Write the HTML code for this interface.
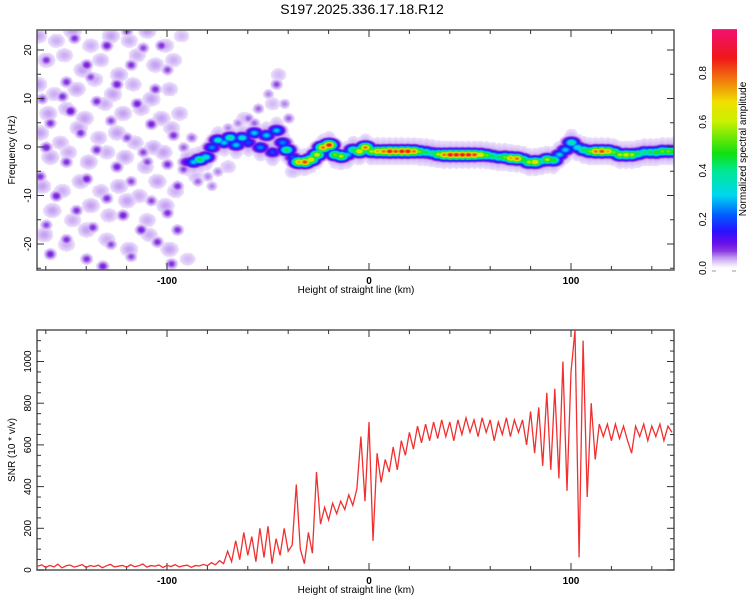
<!DOCTYPE html>
<html><head><meta charset="utf-8">
<style>
html,body{margin:0;padding:0;background:#fff;}
#wrap{position:relative;width:750px;height:600px;font-family:"Liberation Sans",sans-serif;}
canvas{position:absolute;left:37px;top:30px;}
svg{position:absolute;left:0;top:0;}
text{font-family:"Liberation Sans",sans-serif;fill:#000;}
</style></head>
<body>
<div id="wrap">
<canvas id="heat" width="637" height="240"></canvas>
<svg id="svg" width="750" height="600">
<defs><linearGradient id="cbgrad" x1="0" y1="1" x2="0" y2="0"></linearGradient>
<clipPath id="clipB"><rect x="37" y="330" width="637" height="240"/></clipPath></defs>
<text x="362" y="14" font-size="14" text-anchor="middle">S197.2025.336.17.18.R12</text>
<g id="axTop"></g>
<g id="axBot"></g>
<g id="cbar"></g>
<text x="356" y="293" font-size="10" text-anchor="middle">Height of straight line (km)</text>
<text x="356" y="593" font-size="10" text-anchor="middle">Height of straight line (km)</text>
<text transform="translate(15,150) rotate(-90)" font-size="10" text-anchor="middle">Frequency (Hz)</text>
<text transform="translate(15,450) rotate(-90)" font-size="10" text-anchor="middle">SNR (10 * v/v)</text>
<text transform="translate(746,149) rotate(-90)" font-size="10" text-anchor="middle">Normalized spectral amplitude</text>
</svg>
</div>
<script>
// ---- data ----
const snrStartKm = -164;
const snrStepKm = 2;
const snrValues = [18,25,12,22,15,28,10,20,24,14,19,26,12,21,17,23,11,20,27,15,18,22,13,25,16,20,29,14,21,18,24,12,22,17,26,15,20,23,13,21,19,27,
20,35,25,45,30,90,40,140,50,180,70,160,40,200,60,210,30,150,70,200,90,120,410,100,30,180,80,470,220,300,240,320,270,330,290,360,310,390,640,330,710,140,560,420,530,470,590,480,620,550,660,580,690,610,700,620,710,630,720,640,710,620,720,650,730,660,720,640,730,660,720,620,710,650,730,640,720,660,720,600,760,560,780,500,850,480,870,440,1000,380,950,1150,60,1100,350,800,530,700,640,700,620,700,630,690,620,560,690,640,700,620,690,640,700,620,690,660];
const ridgeKm   = [-90,-87,-84,-81,-78,-75,-72,-69,-66,-63,-60,-57,-54,-51,-48,-46,-43,-41,-38,-35,-32,-29,-26,-23,-20,-17,-14,-11,-8,-5,-2,1,4,7,10,13,16,19,22,25,28,31,34,37,40,43,46,49,52,55,58,61,64,67,70,73,76,79,82,85,88,91,94,97,100,103,106,109,112,115,118,121,124,127,130,133,136,139,142,145,148,150];
const ridgeHz   = [-3,-3,-2.5,-2,0,1.5,1,2,0.5,2,1,3,0,2.5,-1,3.5,1,-0.5,-2,-3,-3,-2.5,-1.5,0,0.5,-1.5,-1.8,-1.5,-0.5,-0.8,0,-0.8,-0.8,-0.8,-0.8,-0.8,-0.8,-0.8,-0.8,-0.9,-1,-1.2,-1.4,-1.5,-1.5,-1.5,-1.5,-1.5,-1.5,-1.5,-1.6,-1.8,-2,-2,-2.2,-2.3,-2.5,-3,-3,-2.8,-2.5,-2.6,-1.5,-0.5,1,0,-0.5,-0.8,-0.8,-0.8,-0.8,-1,-1.5,-1.5,-1.5,-1.3,-1,-1,-1,-0.8,-0.8,-0.8];
const ridgeAmp  = [0.15,0.3,0.45,0.35,0.25,0.35,0.3,0.4,0.3,0.35,0.2,0.3,0.25,0.3,0.2,0.3,0.25,0.45,0.2,0.75,0.85,0.7,0.65,0.8,0.9,0.55,0.6,0.3,0.45,0.7,0.8,0.6,0.75,0.8,0.9,0.85,0.9,0.9,0.8,0.55,0.45,0.42,0.6,0.8,0.9,0.9,0.9,0.9,0.85,0.7,0.55,0.45,0.45,0.55,0.75,0.8,0.5,0.6,0.7,0.4,0.6,0.5,0.3,0.3,0.4,0.35,0.45,0.55,0.8,0.85,0.75,0.55,0.6,0.65,0.6,0.45,0.42,0.45,0.5,0.55,0.55,0.5];
const darkBlobKm = [-146,-130,-112,-160,-140,-118,-100,-150,-125,-106,-162,-135,-115,-148,-158,-128,-108,-143,-120,-97,-160,-135,-112,-150,-125,-100,-92,-163,-140,-118,-95,-155,-130,-108,-145,-122,-100,-160,-137,-113,-150,-128,-105,-158,-140,-118,-98,-132,-110,-152,-138,-103,-120,-95,-55,-50,-46,-40,-60,-65,-57,-42,-70,-85,-80,-75,-92,-88,-78];
const darkBlobHz = [22.5,21,20.5,18,17,17,16,13.5,13,12,10,9.5,9,7.5,5,5.5,4.8,3,2,2.5,0,-0.5,-1,-3,-4,-3.5,-4.5,-6,-6.5,-7,-8,-10,-10.5,-11,-13,-14,-13.5,-16,-16.5,-17,-19,-20,-19.5,-22,-23,-22.5,-24,-24.5,-3,10.5,14.5,21,24,-17,8,11,13,6,6,5,5,9,4,-7,-6,-5,0,2,-8];
const darkBlobAmp = [0.08,0.09,0.07,0.08,0.09,0.08,0.07,0.08,0.09,0.08,0.07,0.08,0.09,0.1,0.08,0.07,0.09,0.08,0.07,0.08,0.09,0.08,0.07,0.08,0.09,0.08,0.07,0.08,0.09,0.07,0.08,0.09,0.08,0.07,0.08,0.09,0.08,0.07,0.08,0.09,0.08,0.07,0.08,0.09,0.08,0.07,0.08,0.09,0.07,0.08,0.07,0.08,0.07,0.08,0.06,0.05,0.07,0.06,0.06,0.05,0.06,0.05,0.05,0.06,0.05,0.05,0.06,0.06,0.05];
const lightBlobKm = [-164,-155,-147,-138,-128,-119,-110,-101,-93,-160,-151,-142,-133,-124,-115,-106,-97,-164,-156,-145,-136,-127,-117,-108,-99,-159,-150,-141,-131,-122,-113,-103,-94,-163,-153,-144,-134,-125,-116,-107,-98,-158,-149,-139,-130,-121,-111,-102,-162,-152,-143,-133,-124,-114,-105,-96,-157,-147,-138,-129,-120,-110,-101,-161,-150,-140,-130,-119,-109,-99,-90,-86,-70,-62,-48,-45,-38];
const lightBlobHz = [23,22,24,21,23,22,24,21,23,18,19,16,18,15,19,17,18,13,11,12,14,11,13,10,12,7,8,6,9,7,8,6,7,3,1,4,2,3,1,0,4,-2,-1,-3,-1,-2,-4,-1,-8,-9,-7,-9,-8,-10,-7,-9,-13,-15,-12,-14,-11,-15,-12,-18,-20,-17,-19,-21,-18,-21,-23,-6,-4,6,9,15,-5];
const lightBlobAmp = [0.04,0.035,0.04,0.035,0.04,0.035,0.04,0.035,0.03,0.04,0.035,0.04,0.035,0.04,0.035,0.04,0.035,0.04,0.035,0.04,0.035,0.04,0.035,0.04,0.035,0.04,0.035,0.04,0.035,0.04,0.035,0.04,0.035,0.04,0.035,0.04,0.035,0.04,0.035,0.04,0.035,0.04,0.035,0.04,0.035,0.04,0.035,0.04,0.04,0.035,0.04,0.035,0.04,0.035,0.04,0.035,0.04,0.035,0.04,0.035,0.04,0.035,0.04,0.04,0.035,0.04,0.035,0.04,0.035,0.04,0.03,0.03,0.03,0.03,0.03,0.03,0.03];
const colorStopVals = [0,0.02,0.04,0.07,0.10,0.15,0.22,0.30,0.40,0.47,0.60,0.68,0.78,0.86,0.98];
const colorStopCols = ["#ffffff","#e4d4fa","#c4a0f2","#8a3ae0","#6a10e8","#2a10ff","#0060ff","#00d8f0","#00e890","#10e010","#c8f000","#f0e000","#f07010","#f01818","#f01070"];

// ---- scales ----
const X0=37, XW=637;
function xKm(k){return 369+2.02*k;}
function yHz(f){return 147-4.85*f;}
function ySnr(v){return 570-0.2085*v;}
function yCb(v){return 268-243.75*v;}

const NS='http://www.w3.org/2000/svg';
const svg=document.getElementById('svg');
function el(tag,attrs,parent){const e=document.createElementNS(NS,tag);for(const k in attrs)e.setAttribute(k,attrs[k]);(parent||svg).appendChild(e);return e;}

// ---- heatmap ----
function hex(c){return [parseInt(c.substr(1,2),16),parseInt(c.substr(3,2),16),parseInt(c.substr(5,2),16)];}
const stopRGB=colorStopCols.map(hex);
function cmap(v){
  if(v<=colorStopVals[0])return stopRGB[0];
  for(let i=1;i<colorStopVals.length;i++){
    if(v<=colorStopVals[i]){const t=(v-colorStopVals[i-1])/(colorStopVals[i]-colorStopVals[i-1]);const a=stopRGB[i-1],b=stopRGB[i];return [a[0]+(b[0]-a[0])*t,a[1]+(b[1]-a[1])*t,a[2]+(b[2]-a[2])*t];}
  }
  return stopRGB[stopRGB.length-1];
}
(function(){
  const cv=document.getElementById('heat');const ctx=cv.getContext('2d');
  const W=cv.width,H=cv.height;const img=ctx.createImageData(W,H);
  const blobs=[];
  for(let i=0;i<ridgeKm.length;i++){
    blobs.push([xKm(ridgeKm[i])-X0,yHz(ridgeHz[i])-30,ridgeAmp[i],7,4.5]);
    blobs.push([xKm(ridgeKm[i])-X0,yHz(ridgeHz[i])-30,0.045,8,13]);
  }
  for(let i=0;i<darkBlobKm.length;i++)blobs.push([xKm(darkBlobKm[i])-X0,yHz(darkBlobHz[i])-30,darkBlobAmp[i],5,4.5]);
  for(let i=0;i<lightBlobKm.length;i++)blobs.push([xKm(lightBlobKm[i])-X0,yHz(lightBlobHz[i])-30,lightBlobAmp[i],9,7.5]);
  for(let y=0;y<H;y++){for(let x=0;x<W;x++){
    let v=0;
    for(const b of blobs){const dx=(x-b[0])/b[3];if(dx>3||dx<-3)continue;const dy=(y-b[1])/b[4];if(dy>3||dy<-3)continue;const g=b[2]*Math.exp(-(dx*dx+dy*dy));if(g>v)v=g;}
    const p=(y*W+x)*4;
    if(v<0.014){img.data[p]=255;img.data[p+1]=255;img.data[p+2]=255;}
    else{const c=cmap(v);img.data[p]=c[0];img.data[p+1]=c[1];img.data[p+2]=c[2];}
    img.data[p+3]=255;
  }}
  ctx.putImageData(img,0,0);
})();

// ---- axes helper ----
function axes(g,top,bottom,yTicks,yMajorEvery,yLabelVals,yfn,labelPrefix){
  el('rect',{x:37,y:top,width:637,height:bottom-top,fill:'none',stroke:'#555','stroke-width':1.5},g);
  for(let k=-160;k<=150;k+=20){
    const x=xKm(k);const major=(k%100===0);const L=major?7:4;
    el('line',{x1:x,y1:bottom,x2:x,y2:bottom-L,stroke:'#333','stroke-width':1},g);
    el('line',{x1:x,y1:top,x2:x,y2:top+L,stroke:'#333','stroke-width':1},g);
    if(major){const t=el('text',{x:x,y:bottom+14,'font-size':10,'font-weight':'bold','text-anchor':'middle'},g);t.textContent=String(k);
      }
  }
  for(const v of yTicks){
    const y=yfn(v);if(y<top-0.5||y>bottom+0.5)continue;const major=(Math.abs(v)%yMajorEvery===0);const L=major?7:4;
    el('line',{x1:37,y1:y,x2:37+L,y2:y,stroke:'#333','stroke-width':1},g);
    el('line',{x1:674,y1:y,x2:674-L,y2:y,stroke:'#333','stroke-width':1},g);
  }
  for(const v of yLabelVals){
    const y=yfn(v);const t=el('text',{transform:'translate(31,'+y+') rotate(-90)','font-size':10,'text-anchor':'middle'},g);t.textContent=String(v);
    
  }
}
const hzTicks=[-25,-20,-15,-10,-5,0,5,10,15,20];
const hzLabels=[-20,-10,0,10,20];
const snrTicks=[0,50,100,150,200,250,300,350,400,450,500,550,600,650,700,750,800,850,900,950,1000,1050,1100];
const snrLabels=[0,200,400,600,800,1000];
axes(document.getElementById('axTop'),30,270,hzTicks,10,hzLabels,yHz,'top');
axes(document.getElementById('axBot'),330,570,snrTicks,200,snrLabels,ySnr,'bottom');

// ---- SNR line ----
(function(){
  let d='';
  for(let i=0;i<snrValues.length;i++){const k=snrStartKm+snrStepKm*i;d+=(i?'L':'M')+xKm(k).toFixed(1)+','+ySnr(snrValues[i]).toFixed(1);}
  const p=el('path',{d:d,fill:'none',stroke:'#f03030','stroke-width':1.3,'clip-path':'url(#clipB)'});
  
  
})();

// ---- colorbar ----
(function(){
  const gr=document.getElementById('cbgrad');
  for(let i=0;i<colorStopVals.length;i++){el('stop',{offset:(colorStopVals[i]/0.98*100).toFixed(1)+'%','stop-color':colorStopCols[i]},gr);}
  const g=document.getElementById('cbar');
  const r=el('rect',{x:712,y:yCb(0.98),width:25,height:yCb(0)-yCb(0.98),fill:'url(#cbgrad)'},g);
  
  
  el('line',{x1:712,y1:271,x2:716,y2:271,stroke:'#999'},g);
  el('line',{x1:732,y1:271,x2:736,y2:271,stroke:'#999'},g);
  const cbTicks=[0,0.2,0.4,0.6,0.8];
  for(const v of cbTicks){const t=el('text',{transform:'translate(706,'+yCb(v)+') rotate(-90)','font-size':10,'text-anchor':'middle'},g);t.textContent=v.toFixed(1);
    }
})();
</script>
</body></html>
